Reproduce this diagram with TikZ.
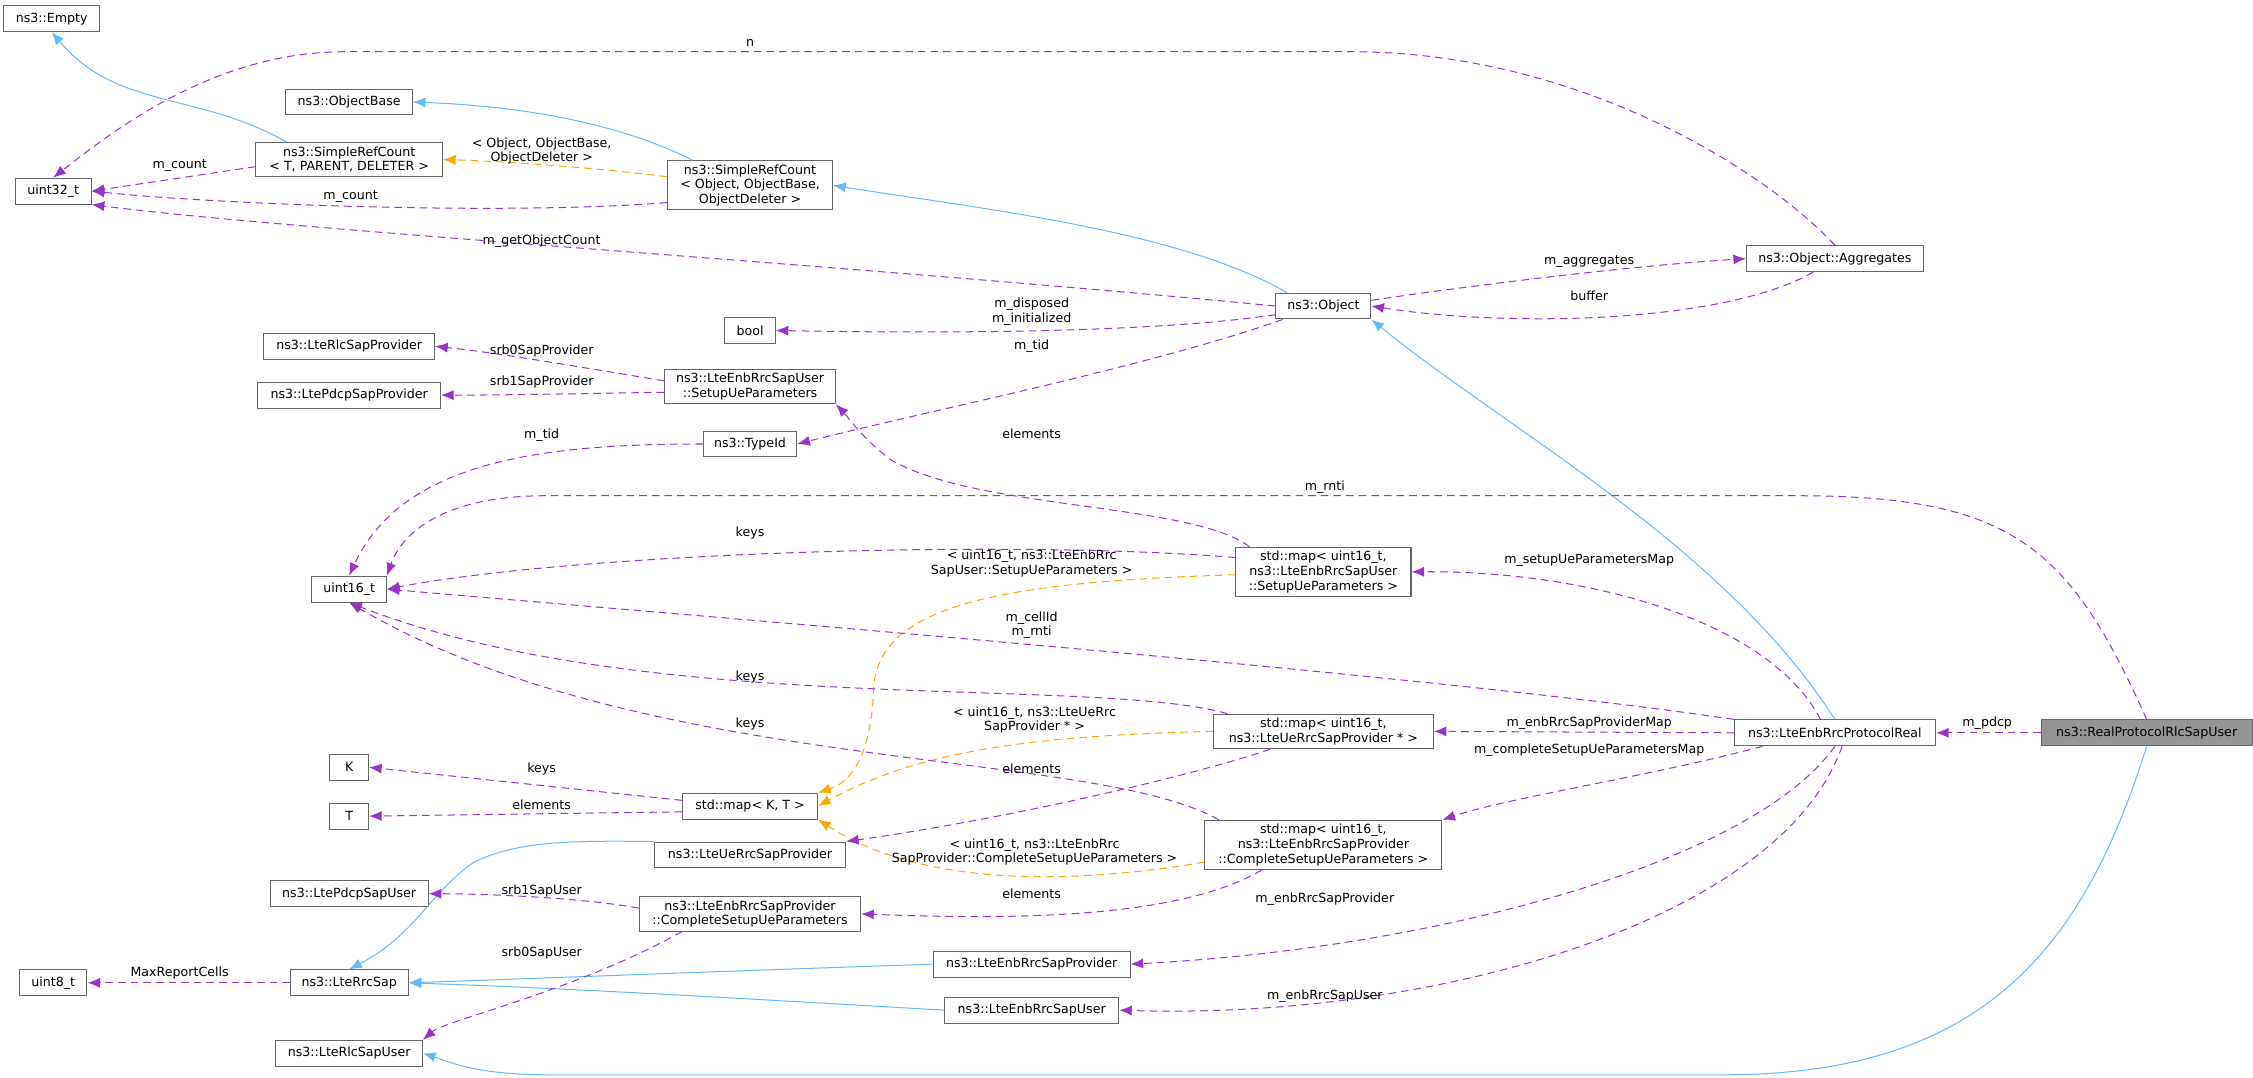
\documentclass[tikz,border=0pt]{standalone}
\usepackage{fontspec}
\setmainfont{DejaVu Sans}
\usetikzlibrary{arrows.meta}
\definecolor{pur}{HTML}{9A32CD}
\definecolor{blu}{HTML}{63B8FF}
\definecolor{org}{HTML}{FFA500}
\begin{document}
\begin{tikzpicture}[x=0.02cm,y=-0.02cm,font=\fontsize{5}{5.8}\selectfont,
 box/.style={draw=black!60,fill=white,inner sep=1.5pt,minimum height=0.36cm,align=center},
 inh/.style={draw=blu,thin,-{Latex[length=5pt,width=4pt]}},
 usr/.style={draw=pur,thin,dash pattern=on 3pt off 2pt,-{Latex[length=5pt,width=4pt]}},
 tpl/.style={draw=org,thin,dash pattern=on 3pt off 2pt,-{Latex[length=5pt,width=4pt]}},
 lb/.style={inner sep=0.5pt,align=center}]
\useasboundingbox (0,0) rectangle (1568,750);
\node[box,minimum width=1.34cm] (empty) at (36,13) {ns3::Empty};
\node[box,minimum width=1.06cm] (u32) at (37,133) {uint32\_t};
\node[box,minimum width=1.76cm] (ob) at (243,71) {ns3::ObjectBase};
\node[box,minimum width=2.6cm] (srt) at (243,111) {ns3::SimpleRefCount\\< T, PARENT, DELETER >};
\node[box,minimum width=2.3cm] (sro) at (522,129) {ns3::SimpleRefCount\\< Object, ObjectBase,\\ObjectDeleter >};
\node[box,minimum width=0.7cm] (bool) at (522,230) {bool};
\node[box,minimum width=1.32cm] (obj) at (921,213) {ns3::Object};
\node[box,minimum width=2.46cm] (agg) at (1277,180) {ns3::Object::Aggregates};
\node[box,minimum width=2.38cm] (rlcp) at (243,241) {ns3::LteRlcSapProvider};
\node[box,minimum width=2.54cm] (pdcpp) at (243,275) {ns3::LtePdcpSapProvider};
\node[box,minimum width=2.38cm] (setup) at (522,269) {ns3::LteEnbRrcSapUser\\::SetupUeParameters};
\node[box,minimum width=1.3cm] (tid) at (522,309) {ns3::TypeId};
\node[box,minimum width=1.04cm] (u16) at (243,410) {uint16\_t};
\node[box,minimum width=2.44cm] (mapS) at (921,398) {std::map< uint16\_t,\\ ns3::LteEnbRrcSapUser\\::SetupUeParameters >};
\node[box,minimum width=3.06cm] (mapU) at (921,509) {std::map< uint16\_t,\\ns3::LteUeRrcSapProvider * >};
\node[box,minimum width=2.8cm] (prot) at (1277,510) {ns3::LteEnbRrcProtocolReal};
\node[box,minimum width=2.94cm,fill=black!42] (real) at (1494,510) {ns3::RealProtocolRlcSapUser};
\node[box,minimum width=0.54cm] (K) at (243,534) {K};
\node[box,minimum width=0.54cm] (T) at (243,568) {T};
\node[box,minimum width=1.88cm] (mapKT) at (522,561) {std::map< K, T >};
\node[box,minimum width=2.66cm] (lursp) at (522,595) {ns3::LteUeRrcSapProvider};
\node[box,minimum width=3.3cm] (mapC) at (921,588) {std::map< uint16\_t,\\ns3::LteEnbRrcSapProvider\\::CompleteSetupUeParameters >};
\node[box,minimum width=2.2cm] (pdcpu) at (243,622) {ns3::LtePdcpSapUser};
\node[box,minimum width=3.08cm] (comp) at (522,636) {ns3::LteEnbRrcSapProvider\\::CompleteSetupUeParameters};
\node[box,minimum width=0.94cm] (u8) at (37,684) {uint8\_t};
\node[box,minimum width=1.64cm] (rrc) at (243,684) {ns3::LteRrcSap};
\node[box,minimum width=2.74cm] (ersp) at (718,671) {ns3::LteEnbRrcSapProvider};
\node[box,minimum width=2.42cm] (ersu) at (718,703) {ns3::LteEnbRrcSapUser};
\node[box,minimum width=2.04cm] (rlcu) at (243,733) {ns3::LteRlcSapUser};
% inheritance
\draw[inh] (srt.north west) ++(22,0) to[out=150,in=-50] (empty.south);
\draw[inh] (sro.north) ++(-40,0) .. controls (420,80) and (340,73) .. (ob.east);
\draw[inh] (obj.north west) ++(8,0) .. controls (820,160) and (680,145) .. (sro.east);
\draw[inh] (prot.north) .. controls (1200,380) and (1050,300) .. (obj.south east);
\draw[inh] (real.south) .. controls (1450,660) and (1380,748) .. (1200,748) -- (380,748) .. controls (330,748) and (310,738) .. (rlcu.east);
\draw[inh] (lursp.north west) .. controls (400,585) and (360,585) .. (330,600) .. controls (300,620) and (290,650) .. (rrc.north);
\draw[inh] (ersp.west) .. controls (500,676) and (400,680) .. (rrc.east);
\draw[inh] (ersu.west) .. controls (500,694) and (400,688) .. (rrc.east);
% templates
\draw[tpl] (sro.west) ++(0,-6) .. controls (400,115) and (340,112) .. (srt.east);
\draw[tpl] (mapS.west) ++(0,2) .. controls (700,405) and (610,420) .. (608,480) .. controls (606,530) and (590,545) .. (mapKT.north east);
\draw[tpl] (mapU.west) .. controls (720,512) and (640,522) .. (mapKT.east);
\draw[tpl] (mapC.west) ++(0,12) .. controls (720,620) and (630,610) .. (mapKT.south east);
% usage
\draw[usr] (srt.west) ++(0,5) -- (u32.east);
\draw[usr] (sro.west) ++(0,12) .. controls (350,150) and (150,142) .. (u32.east);
\draw[usr] (obj.west) .. controls (600,185) and (200,160) .. (u32.south east);
\draw[usr] (agg.north) .. controls (1230,120) and (1100,36) .. (940,36) -- (240,36) .. controls (150,36) and (80,90) .. (u32.north);
\draw[usr] (obj.east) ++(0,-4) .. controls (1050,195) and (1150,184) .. (agg.west);
\draw[usr] (agg.south) ++(-15,0) .. controls (1200,225) and (1050,228) .. (obj.east);
\draw[usr] (obj.west) ++(0,6) .. controls (800,232) and (650,232) .. (bool.east);
\draw[usr] (obj.south west) ++(5,0) .. controls (800,255) and (650,285) .. (tid.east);
\draw[usr] (setup.west) ++(0,-4) .. controls (400,255) and (350,246) .. (rlcp.east);
\draw[usr] (setup.west) ++(0,4) .. controls (400,274) and (350,275) .. (pdcpp.east);
\draw[usr] (tid.west) .. controls (380,309) and (280,320) .. (u16.north);
\draw[usr] (mapS.north west) ++(10,0) .. controls (830,350) and (680,355) .. (620,320) .. controls (600,305) and (590,290) .. (setup.south east);
\draw[usr] (real.north) .. controls (1440,380) and (1400,345) .. (1250,345) -- (380,345) .. controls (310,345) and (280,370) .. (u16.north east);
\draw[usr] (mapS.west) ++(0,-10) .. controls (700,375) and (400,385) .. (u16.east);
\draw[usr] (prot.north) ++(-10,0) .. controls (1230,430) and (1100,397) .. (mapS.east);
\draw[usr] (prot.north west) .. controls (1000,470) and (500,430) .. (u16.east);
\draw[usr] (mapU.north west) ++(10,0) .. controls (760,470) and (450,500) .. (u16.south);
\draw[usr] (prot.west) -- (mapU.east);
\draw[usr] (mapC.north west) ++(10,0) .. controls (760,520) and (450,540) .. (u16.south);
\draw[usr] (prot.south west) ++(20,0) .. controls (1150,540) and (1050,555) .. (mapC.north east);
\draw[usr] (mapKT.west) ++(0,-4) -- (K.east);
\draw[usr] (mapKT.west) ++(0,4) -- (T.east);
\draw[usr] (mapU.south west) ++(40,0) .. controls (830,540) and (700,570) .. (lursp.north east);
\draw[usr] (mapC.south west) ++(40,0) .. controls (820,640) and (700,640) .. (comp.east);
\draw[usr] (comp.west) ++(0,-4) .. controls (400,624) and (330,622) .. (pdcpu.east);
\draw[usr] (comp.south west) ++(30,0) .. controls (400,690) and (310,710) .. (rlcu.north east);
\draw[usr] (rrc.west) -- (u8.east);
\draw[usr] (prot.south) .. controls (1220,600) and (1000,660) .. (ersp.east);
\draw[usr] (prot.south) ++(5,0) .. controls (1240,640) and (1000,710) .. (ersu.east);
\draw[usr] (real.west) -- (prot.east);
% labels
\node[lb] (l1) at (125,115) {m\_count};
\node[lb] (l2) at (244,137) {m\_count};
\node[lb] (l3) at (377,168) {m\_getObjectCount};
\node[lb] (l4) at (522,30) {n};
\node[lb] (l5) at (1106,182) {m\_aggregates};
\node[lb] (l6) at (1106,206) {buffer};
\node[lb] (l7) at (718,217) {m\_disposed\\m\_initialized};
\node[lb] (l8) at (718,241) {m\_tid};
\node[lb] (l0) at (377,105) {< Object, ObjectBase,\\ObjectDeleter >};
\node[lb] (l9) at (377,244) {srb0SapProvider};
\node[lb] (l10) at (377,266) {srb1SapProvider};
\node[lb] (l11) at (377,303) {m\_tid};
\node[lb] (l12) at (718,302) {elements};
\node[lb] (l13) at (922,339) {m\_rnti};
\node[lb] (l14) at (522,371) {keys};
\node[lb] (l15) at (718,392) {< uint16\_t, ns3::LteEnbRrc\\SapUser::SetupUeParameters >};
\node[lb] (l16) at (1106,390) {m\_setupUeParametersMap};
\node[lb] (l17) at (718,435) {m\_cellId\\m\_rnti};
\node[lb] (l18) at (522,471) {keys};
\node[lb] (l19) at (720,501) {< uint16\_t, ns3::LteUeRrc\\SapProvider * >};
\node[lb] (l20) at (522,504) {keys};
\node[lb] (l21) at (1106,503) {m\_enbRrcSapProviderMap};
\node[lb] (l22) at (1106,522) {m\_completeSetupUeParametersMap};
\node[lb] (l23) at (1383,503) {m\_pdcp};
\node[lb] (l24) at (377,535) {keys};
\node[lb] (l25) at (377,560) {elements};
\node[lb] (l26) at (718,535) {elements};
\node[lb] (l27) at (720,593) {< uint16\_t, ns3::LteEnbRrc\\SapProvider::CompleteSetupUeParameters >};
\node[lb] (l28) at (718,622) {elements};
\node[lb] (l29) at (377,620) {srb1SapUser};
\node[lb] (l30) at (922,626) {m\_enbRrcSapProvider};
\node[lb] (l31) at (377,663) {srb0SapUser};
\node[lb] (l32) at (125,677) {MaxReportCells};
\node[lb] (l33) at (922,693) {m\_enbRrcSapUser};
\end{tikzpicture}
\end{document}
